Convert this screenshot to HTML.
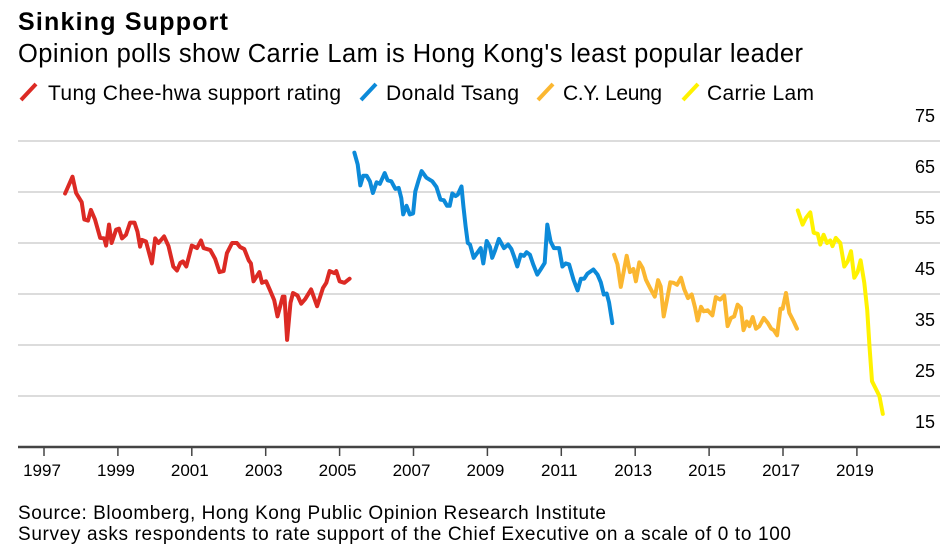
<!DOCTYPE html>
<html><head><meta charset="utf-8"><style>
html,body{margin:0;padding:0;background:#fff;}
svg{display:block;font-family:"Liberation Sans",Arial,sans-serif;}
</style></head><body>
<svg id="chart" width="950" height="559" viewBox="0 0 950 559">
<text x="18" y="30" font-size="25" font-weight="bold" fill="#000" textLength="210">Sinking Support</text>
<text x="18" y="62" font-size="25.5" fill="#000" textLength="785">Opinion polls show Carrie Lam is Hong Kong's least popular leader</text>
<g>
<g><line x1="21" y1="100" x2="36" y2="84" stroke="#dc2a24" stroke-width="4"/><text x="48" y="100" font-size="21" textLength="293">Tung Chee-hwa support rating</text></g>
<g><line x1="361" y1="100" x2="376" y2="84" stroke="#0c8ad9" stroke-width="4"/><text x="386" y="100" font-size="21" textLength="133">Donald Tsang</text></g>
<g><line x1="538" y1="100" x2="553" y2="84" stroke="#fbb731" stroke-width="4"/><text x="563" y="100" font-size="21" textLength="99">C.Y. Leung</text></g>
<g><line x1="683" y1="100" x2="698" y2="84" stroke="#fff200" stroke-width="4"/><text x="707" y="100" font-size="21" textLength="107">Carrie Lam</text></g>
</g>
<g id="grid"></g>
<g id="yticks"></g>
<g id="xaxis"></g>
<g id="series"></g>
<text x="18" y="519" font-size="19" textLength="588">Source: Bloomberg, Hong Kong Public Opinion Research Institute</text>
<text x="18" y="540" font-size="19" textLength="773">Survey asks respondents to rate support of the Chief Executive on a scale of 0 to 100</text>
</svg>
<script>
const yTicks=[15,25,35,45,55,65,75];
const xTickYears=[1997,1999,2001,2003,2005,2007,2009,2011,2013,2015,2017,2019];
const tungDates=[1997.57,1997.77,1997.87,1998.02,1998.09,1998.19,1998.27,1998.38,1998.52,1998.63,
1998.68,1998.76,1998.83,1998.95,1999.03,1999.11,1999.22,1999.33,1999.45,1999.53,
1999.60,1999.65,1999.76,1999.92,2000.01,2000.10,2000.25,2000.37,2000.50,2000.60,
2000.69,2000.76,2000.85,2001.00,2001.14,2001.25,2001.32,2001.50,2001.63,2001.75,
2001.86,2001.95,2002.09,2002.22,2002.31,2002.42,2002.54,2002.60,2002.67,2002.83,
2002.90,2003.01,2003.12,2003.23,2003.32,2003.46,2003.51,2003.58,2003.67,2003.74,
2003.86,2003.96,2004.07,2004.23,2004.39,2004.55,2004.64,2004.73,2004.86,2004.91,
2005.00,2005.13,2005.27];
const tungValues=[64.7,68,64.8,63,59.6,59.4,61.5,59.6,56,55.9,
54.5,58.6,55,57.6,57.8,55.9,56.6,59,59,57.2,
54.3,55.6,55.3,51,55.9,55,56.3,54.4,50.4,49.6,
51.1,51.4,50.4,54.5,54,55.5,54,53.6,51.9,49.3,
49.5,53,55,55,54.2,53.8,51.6,51,47.5,49.3,
47.2,47.5,45.7,43.8,40.6,44.5,44.5,36,43.3,45.2,
44.7,43.1,44,45.9,42.6,46.2,47.2,49.5,49.1,49.5,
47.5,47.2,48];
const tsangDates=[2005.40,2005.49,2005.56,2005.64,2005.73,2005.82,2005.90,2006.00,2006.09,2006.22,
2006.30,2006.40,2006.51,2006.60,2006.67,2006.72,2006.81,2006.90,2006.99,2007.05,
2007.13,2007.22,2007.35,2007.51,2007.62,2007.73,2007.82,2007.91,2007.98,2008.05,
2008.14,2008.20,2008.30,2008.35,2008.41,2008.47,2008.53,2008.63,2008.73,2008.82,
2008.89,2008.98,2009.07,2009.13,2009.20,2009.31,2009.45,2009.56,2009.65,2009.72,
2009.81,2009.90,2009.99,2010.06,2010.15,2010.24,2010.35,2010.44,2010.55,2010.62,
2010.71,2010.80,2010.94,2011.03,2011.12,2011.21,2011.33,2011.44,2011.53,2011.62,
2011.71,2011.87,2011.98,2012.07,2012.15,2012.23,2012.29,2012.38];
const tsangValues=[72.7,70.4,66.3,68.2,68.2,67.1,64.8,66.9,66.6,68.7,
67.3,67.1,65.6,65.8,63.8,60.6,62.3,60.6,60.8,65.1,
67.1,69.1,67.8,67.1,66,63.5,63.4,62.3,62.3,64.7,
64.2,64.5,66.1,62.2,58.3,55,54.7,52.1,53.1,54,
51,55.4,54.2,52.1,53.4,55.8,54,54.7,53.8,52.4,
50.4,52.7,52.5,53.2,52.7,50.8,48.8,49.8,51.1,58.6,
55.3,54,54,50.4,51,50.8,47.8,45.7,48,48,
49,49.8,48.8,47.3,44.9,45.1,43.4,39.3];
const leungDates=[2012.43,2012.52,2012.61,2012.70,2012.77,2012.86,2012.95,2013.02,2013.11,2013.20,
2013.29,2013.40,2013.53,2013.62,2013.69,2013.77,2013.86,2013.95,2014.04,2014.13,
2014.24,2014.33,2014.43,2014.53,2014.62,2014.69,2014.78,2014.85,2014.96,2015.09,
2015.18,2015.30,2015.41,2015.50,2015.59,2015.68,2015.77,2015.86,2015.93,2016.02,
2016.09,2016.18,2016.27,2016.36,2016.48,2016.59,2016.68,2016.75,2016.84,2016.93,
2016.99,2017.08,2017.17,2017.29,2017.38];
const leungValues=[52.7,50.8,46.4,49.8,52.5,49.3,49.9,47.5,51.2,50.1,
47.8,46.2,44.5,47.7,46.5,40.6,43.9,47.3,47.2,46.8,
48.2,45.9,44.2,44.9,42.3,39.8,42.5,41.6,41.8,40.8,
44.4,43.9,44.7,38.7,40.3,40.6,42.9,42.3,37.9,39.6,
38.7,40.5,38.2,38.7,40.3,39.3,38.2,37.9,36.9,42.1,
42.1,45.2,41.3,39.6,38.2];
const lamDates=[2017.40,2017.53,2017.62,2017.74,2017.83,2017.94,2018.01,2018.10,2018.19,2018.28,
2018.34,2018.43,2018.55,2018.66,2018.75,2018.84,2018.93,2019.02,2019.10,2019.20,
2019.28,2019.34,2019.41,2019.52,2019.61,2019.70];
const lamValues=[61.4,58.6,59.9,61,57,56.8,54.7,56.6,55,55.5,
54.4,56,55,50.4,51.4,53.4,48.2,49.3,51.6,47.2,
41.9,34.7,27.9,26.3,25,21.5];

const NS='http://www.w3.org/2000/svg';
function xScale(t){return 44+(t-1997)*36.95;}
function yScale(v){return 447-(v-15)*5.1;}
function mk(tag,attrs,parent){const e=document.createElementNS(NS,tag);for(const k in attrs)e.setAttribute(k,attrs[k]);parent.appendChild(e);return e;}
const grid=document.getElementById('grid'),yt=document.getElementById('yticks'),xa=document.getElementById('xaxis'),ser=document.getElementById('series');
yTicks.forEach(v=>{
  if(v!==15){
    const l=mk('line',{x1:18,x2:940,y1:yScale(v),y2:yScale(v),stroke:'#dcdcdc','stroke-width':2},grid);
    
    
  }
  const t=mk('text',{x:935,y:yScale(v)-19,'font-size':18,'text-anchor':'end',fill:'#000'},yt);
  t.textContent=v;
  
  
});
const ax=mk('line',{x1:18,x2:940,y1:447,y2:447,stroke:'#444','stroke-width':2.5},xa);


xTickYears.forEach(y=>{
  const x=xScale(y);
  const tk=mk('line',{x1:x,x2:x,y1:448,y2:456,stroke:'#444','stroke-width':1.5},xa);
  
  
  const t=mk('text',{x:x-2,y:476,'font-size':17,'text-anchor':'middle',fill:'#000'},xa);
  t.textContent=y;
  
  
});
function drawLine(dates,vals,color,name){
  const d=dates.map((t,i)=>(i?'L':'M')+xScale(t).toFixed(1)+','+yScale(vals[i]).toFixed(1)).join('');
  const p=mk('path',{d:d,fill:'none',stroke:color,'stroke-width':4,'stroke-linejoin':'round','stroke-linecap':'round'},ser);
  
  
}
drawLine(tungDates,tungValues,'#dc2a24','tung-line');
drawLine(tsangDates,tsangValues,'#0c8ad9','tsang-line');
drawLine(leungDates,leungValues,'#fbb731','leung-line');
drawLine(lamDates,lamValues,'#fff200','lam-line');
</script>
</body></html>
